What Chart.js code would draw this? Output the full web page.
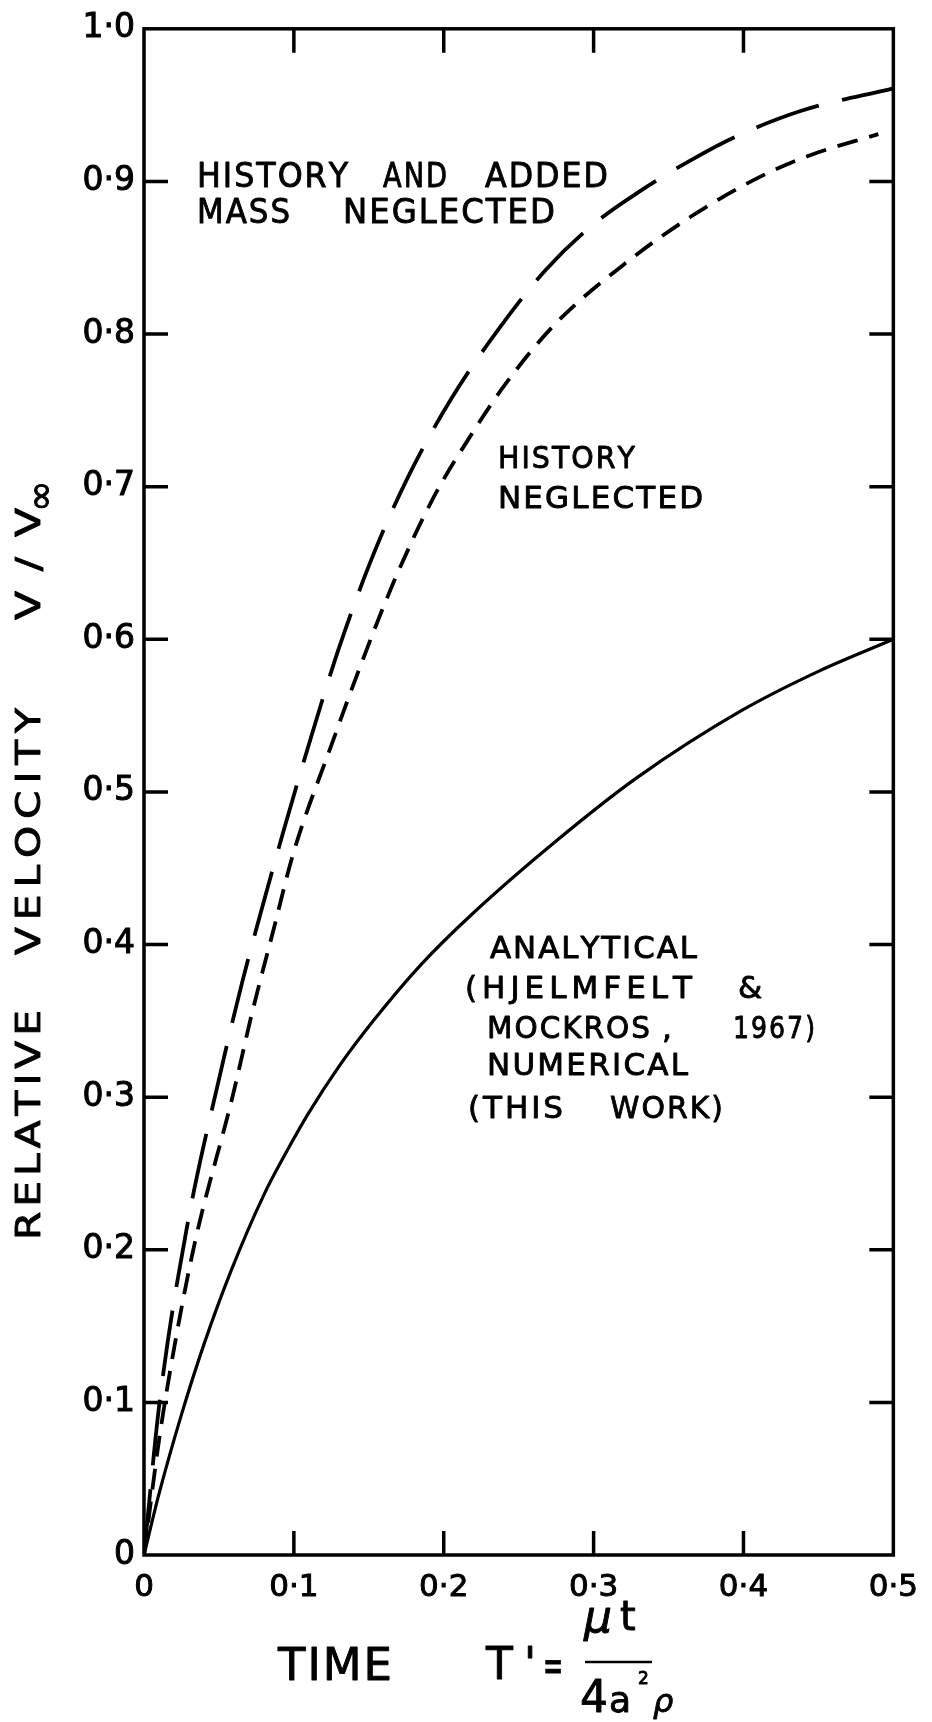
<!DOCTYPE html>
<html>
<head>
<meta charset="utf-8">
<title>Relative velocity against time</title>
<script src="https://cdn.jsdelivr.net/npm/chart.js@4.4.1/dist/chart.umd.min.js"></script>
<style>
  html, body { margin: 0; padding: 0; background: #fff; }
  #wrap { width: 932px; height: 1722px; position: relative; }
</style>
</head>
<body>
<div id="wrap"><canvas id="chart"></canvas></div>
<script>
// analytical / numerical solution (solid)
const exactT = [0, 0.010, 0.025, 0.040, 0.058, 0.080, 0.095, 0.1095, 0.130, 0.153, 0.185, 0.219, 0.274, 0.3285, 0.400, 0.450, 0.500];
const exactV = [0, 0.040, 0.092, 0.138, 0.186, 0.236, 0.264, 0.289, 0.320, 0.350, 0.387, 0.420, 0.467, 0.509, 0.554, 0.579, 0.600];

// history neglected (short dashes)
const noHistT = [0, 0.010, 0.020, 0.034, 0.059, 0.0723, 0.0865, 0.0997, 0.1248, 0.1446, 0.1664, 0.1927, 0.219, 0.241, 0.2738, 0.322, 0.365, 0.409, 0.444, 0.490];
const noHistV = [0, 0.075, 0.135, 0.205, 0.300, 0.356, 0.410, 0.460, 0.530, 0.583, 0.637, 0.692, 0.735, 0.767, 0.806, 0.847, 0.877, 0.902, 0.917, 0.931];

// history and added mass neglected (long dashes)
const noMassT = [0, 0.0105, 0.0285, 0.0515, 0.0657, 0.081, 0.093, 0.1112, 0.130, 0.152, 0.175, 0.204, 0.2387, 0.268, 0.300, 0.330, 0.365, 0.394, 0.4376, 0.500];
const noMassV = [0, 0.101, 0.214, 0.318, 0.376, 0.432, 0.474, 0.535, 0.594, 0.653, 0.704, 0.756, 0.806, 0.842, 0.872, 0.893, 0.914, 0.929, 0.946, 0.961];

const xTicks = [0, 0.1, 0.2, 0.3, 0.4, 0.5];
const xTickLabels = ['0', '0·1', '0·2', '0·3', '0·4', '0·5'];
const yTicks = [0, 0.1, 0.2, 0.3, 0.4, 0.5, 0.6, 0.7, 0.8, 0.9, 1.0];
const yTickLabels = ['0', '0·1', '0·2', '0·3', '0·4', '0·5', '0·6', '0·7', '0·8', '0·9', '1·0'];

const FONT = '"DejaVu Sans", sans-serif';
const INK = '#000';

function pts(ts, vs) {
  return ts.map((t, i) => ({ x: t, y: vs[i] }));
}

// one glyph, squeezed or stretched sideways by sx, with a thin outline for weight
function glyph(ctx, c, x, y, sx) {
  ctx.save();
  ctx.translate(x, y);
  ctx.scale(sx, 1);
  ctx.fillText(c, 0, 0);
  ctx.strokeText(c, 0, 0);
  ctx.restore();
}

// draw a word so that it spans `width` pixels; squeeze letters if they do not fit
function spaced(ctx, text, x, y, width, sx = 1) {
  const chars = [...text];
  const widths = chars.map(c => ctx.measureText(c).width);
  const sum = widths.reduce((s, w) => s + w, 0);
  if (!width || chars.length < 2) {
    glyph(ctx, text, x, y, sx);
    return;
  }
  const minGap = 2;
  let gap = (width - sum * sx) / (chars.length - 1);
  if (gap < minGap) {
    gap = minGap;
    sx = (width - minGap * (chars.length - 1)) / sum;
  }
  let cx = x;
  chars.forEach((c, i) => {
    glyph(ctx, c, cx, y, sx);
    cx += widths[i] * sx + gap;
  });
}

// curve labels: word, left edge, baseline, span
const notes = [
  { text: 'HISTORY', x: 197, y: 187, w: 151, size: 34 },
  { text: 'AND', x: 383, y: 187, w: 64, size: 34 },
  { text: 'ADDED', x: 485, y: 187, w: 123, size: 34 },
  { text: 'MASS', x: 197, y: 223, w: 93, size: 34 },
  { text: 'NEGLECTED', x: 343, y: 223, w: 212, size: 34 },
  { text: 'HISTORY', x: 498, y: 468, w: 137, size: 31 },
  { text: 'NEGLECTED', x: 498, y: 508, w: 205, size: 31 },
  { text: 'ANALYTICAL', x: 490, y: 958, w: 207, size: 31 },
  { text: '(HJELMFELT', x: 465, y: 998, w: 227, size: 31 },
  { text: '&', x: 738, y: 998, size: 31 },
  { text: 'MOCKROS', x: 487, y: 1038, w: 163, size: 31 },
  { text: ',', x: 662, y: 1038, size: 31 },
  { text: '1967)', x: 733, y: 1038, w: 82, size: 31 },
  { text: 'NUMERICAL', x: 487, y: 1075, w: 201, size: 31 },
  { text: '(THIS', x: 468, y: 1118, w: 95, size: 31 },
  { text: 'WORK)', x: 610, y: 1118, w: 113, size: 31 },
];

const framePlugin = {
  id: 'frame',
  afterDraw(chart) {
    const ctx = chart.ctx;
    const a = chart.chartArea;
    const xs = chart.scales.x;
    const ys = chart.scales.y;
    const tick = 24;

    ctx.save();
    ctx.strokeStyle = INK;
    ctx.fillStyle = INK;
    ctx.lineWidth = 3.5;
    ctx.lineCap = 'square';
    ctx.strokeRect(a.left, a.top, a.right - a.left, a.bottom - a.top);

    // inward ticks on all four sides
    ctx.beginPath();
    xTicks.slice(1, -1).forEach(v => {
      const px = xs.getPixelForValue(v);
      ctx.moveTo(px, a.bottom); ctx.lineTo(px, a.bottom - tick);
      ctx.moveTo(px, a.top); ctx.lineTo(px, a.top + tick);
    });
    yTicks.slice(1, -1).forEach(v => {
      const py = ys.getPixelForValue(v);
      ctx.moveTo(a.left, py); ctx.lineTo(a.left + tick, py);
      ctx.moveTo(a.right, py); ctx.lineTo(a.right - tick, py);
    });
    ctx.lineCap = 'butt';
    ctx.stroke();

    // labels beside the curves
    ctx.textAlign = 'left';
    ctx.textBaseline = 'alphabetic';
    ctx.lineWidth = 0.9;
    ctx.lineJoin = 'round';
    notes.forEach(n => {
      ctx.font = n.size + 'px ' + FONT;
      spaced(ctx, n.text, n.x, n.y, n.w);
    });

    // y axis title, reading upwards
    ctx.save();
    ctx.translate(40, 0);
    ctx.rotate(-Math.PI / 2);
    ctx.font = '34px ' + FONT;
    spaced(ctx, 'RELATIVE', -1240, 0, 230, 1.2);
    spaced(ctx, 'VELOCITY', -955, 0, 247, 1.2);
    spaced(ctx, 'V/V', -620, 0, 112, 1.25);
    ctx.font = '38px ' + FONT;
    glyph(ctx, '∞', -512, 13, 1);
    ctx.restore();

    // x axis title with the T' definition
    ctx.font = '45px ' + FONT;
    spaced(ctx, 'TIME', 278, 1680, 114);
    ctx.font = '44px ' + FONT;
    glyph(ctx, 'T', 486, 1679, 1);
    glyph(ctx, '\'', 524, 1679, 1);
    glyph(ctx, '=', 543, 1681, 0.55);
    ctx.font = 'italic 44px ' + FONT;
    glyph(ctx, 'μ', 584, 1632, 1);
    ctx.font = '40px ' + FONT;
    glyph(ctx, 't', 620, 1630, 1);
    ctx.font = '44px ' + FONT;
    glyph(ctx, '4', 580, 1712, 1);
    ctx.font = '36px ' + FONT;
    glyph(ctx, 'a', 609, 1712, 1);
    ctx.font = '17px ' + FONT;
    glyph(ctx, '2', 638, 1684, 1);
    ctx.font = 'italic 32px ' + FONT;
    glyph(ctx, 'ρ', 653, 1712, 1);
    ctx.lineWidth = 2.5;
    ctx.beginPath();
    ctx.moveTo(585, 1662);
    ctx.lineTo(652, 1662);
    ctx.stroke();
    ctx.restore();
  }
};

new Chart(document.getElementById('chart'), {
  type: 'line',
  data: {
    datasets: [
      {
        label: 'Analytical / numerical',
        data: pts(exactT, exactV),
        borderColor: INK,
        borderWidth: 3.2,
      },
      {
        label: 'History neglected',
        data: pts(noHistT, noHistV),
        borderColor: INK,
        borderWidth: 3.8,
        borderDash: [21, 12],
      },
      {
        label: 'History and added mass neglected',
        data: pts(noMassT, noMassV),
        borderColor: INK,
        borderWidth: 3.8,
        borderDash: [66, 24],
      },
    ],
  },
  options: {
    responsive: true,
    maintainAspectRatio: false,
    animation: false,
    layout: {
      autoPadding: false,
      padding: { top: 23, right: 27, left: 0, bottom: 0 },
    },
    elements: {
      point: { radius: 0 },
      line: { cubicInterpolationMode: 'monotone', fill: false },
    },
    plugins: {
      legend: { display: false },
      tooltip: { enabled: false },
    },
    scales: {
      x: {
        type: 'linear',
        min: 0,
        max: 0.5,
        grid: { display: false, drawTicks: false },
        border: { display: false },
        afterBuildTicks: (s) => { s.ticks = xTicks.map(v => ({ value: v })); },
        afterFit: (s) => { s.height = 167; },
        ticks: {
          padding: 14,
          color: INK,
          textStrokeColor: INK,
          textStrokeWidth: 1,
          font: { family: FONT, size: 31 },
          maxRotation: 0,
          callback: (v, i) => xTickLabels[i],
        },
      },
      y: {
        type: 'linear',
        min: 0,
        max: 1,
        grid: { display: false, drawTicks: false },
        border: { display: false },
        afterBuildTicks: (s) => { s.ticks = yTicks.map(v => ({ value: v })); },
        afterFit: (s) => { s.width = 144; },
        ticks: {
          padding: 9,
          color: INK,
          textStrokeColor: INK,
          textStrokeWidth: 1,
          font: { family: FONT, size: 33 },
          callback: (v, i) => yTickLabels[i],
        },
      },
    },
  },
  plugins: [framePlugin],
});
</script>
</body>
</html>
